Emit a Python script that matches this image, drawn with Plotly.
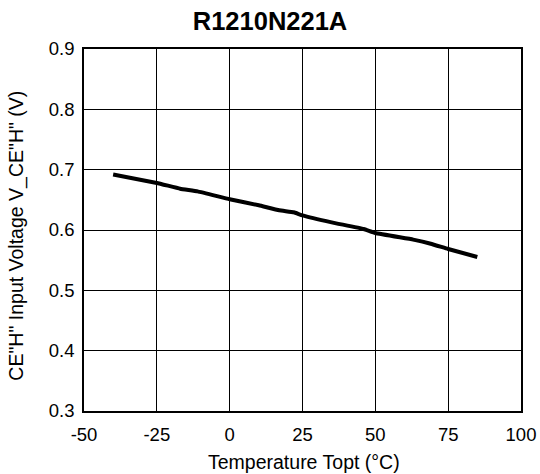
import plotly.graph_objects as go

temperature = [-40, -25, -17, -11, 0, 10, 17, 22, 25, 35, 46, 50, 63, 69, 75, 85]
voltage = [0.692, 0.678, 0.6685, 0.664, 0.651, 0.641, 0.6326, 0.6293, 0.6243, 0.6127, 0.6017, 0.595, 0.584, 0.5773, 0.5685, 0.5552]

x_ticks = [-50, -25, 0, 25, 50, 75, 100]
y_ticks = [0.3, 0.4, 0.5, 0.6, 0.7, 0.8, 0.9]
y_tick_labels = ["0.3", "0.4", "0.5", "0.6", "0.7", "0.8", "0.9"]

W, H = 540, 474
L, R, T, B = 83.5, 18.5, 49, 63
pw, ph = W - L - R, H - T - B

fig = go.Figure()
fig.add_trace(go.Scatter(
    x=temperature, y=voltage, mode="lines",
    line=dict(color="black", width=4, shape="spline", smoothing=0.3),
    showlegend=False, hoverinfo="skip"))

font_family = "Liberation Sans, Arial, sans-serif"

fig.update_layout(
    width=W, height=H,
    margin=dict(l=L, r=R, t=T, b=B),
    paper_bgcolor="white", plot_bgcolor="white",
    font=dict(family=font_family, color="black", size=18.5),
    title=dict(text="<b>R1210N221A</b>", x=0.5, xanchor="center", xref="container",
               y=1 - 21 / H, yanchor="middle",
               font=dict(size=25.5, family=font_family, color="black")),
    xaxis=dict(range=[-50, 100], tickvals=x_ticks, ticktext=[str(v) for v in x_ticks],
               showgrid=True, gridcolor="black", gridwidth=1,
               showline=True, linecolor="black", linewidth=1.5, mirror=True,
               zeroline=False, ticks="", automargin=False,
               ticklabelstandoff=6,
               tickfont=dict(size=18.5)),
    yaxis=dict(range=[0.3, 0.9], tickvals=y_ticks, ticktext=y_tick_labels,
               showgrid=True, gridcolor="black", gridwidth=1,
               showline=True, linecolor="black", linewidth=1.5, mirror=True,
               zeroline=False, ticks="", automargin=False,
               ticklabelstandoff=4,
               tickfont=dict(size=18.5)),
    annotations=[
        dict(text="Temperature Topt (°C)", xref="paper", yref="paper",
             x=0.5 + (304 - (L + pw / 2)) / pw, y=-(462 - (T + ph)) / ph,
             xanchor="center", yanchor="middle", showarrow=False,
             font=dict(size=19.5, family=font_family, color="black")),
        dict(text="CE\"H\" Input Voltage V_CE\"H\" (V)", xref="paper", yref="paper",
             x=-(L - 15) / pw, y=0.5 + ((T + ph / 2) - 236) / ph, textangle=-90,
             xanchor="center", yanchor="middle", showarrow=False,
             font=dict(size=19.5, family=font_family, color="black")),
    ],
)

fig.write_html("out.html", config={"displayModeBar": False},
               post_script="document.body.style.margin='0';document.body.style.overflow='hidden';")
